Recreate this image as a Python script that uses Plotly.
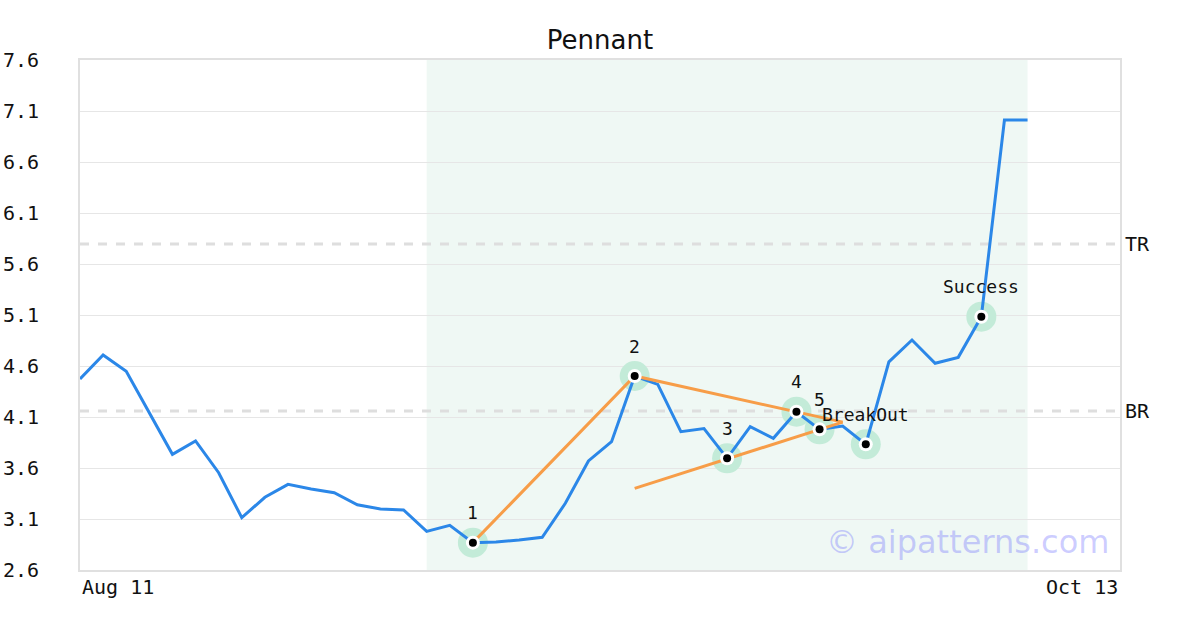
import plotly.graph_objects as go

# ---- data ----
prices = [4.473, 4.708, 4.548, 4.14, 3.734, 3.865, 3.554, 3.113, 3.313, 3.44,
          3.394, 3.358, 3.24, 3.198, 3.188, 2.979, 3.038, 2.868, 2.875, 2.894,
          2.92, 3.254, 3.669, 3.858, 4.502, 4.42, 3.956, 3.986, 3.695, 4.005,
          3.891, 4.152, 3.979, 4.012, 3.832, 4.64, 4.855, 4.627, 4.685, 5.083,
          7.012, 7.012]
day_index = list(range(len(prices)))
x_tick_pos = [0, 45]
x_tick_labels = ["Aug 11", "Oct 13"]
y_ticks = [2.6, 3.1, 3.6, 4.1, 4.6, 5.1, 5.6, 6.1, 6.6, 7.1, 7.6]

pattern_idx = [17, 24, 28, 31, 32, 34, 39]
pattern_labels = ["1", "2", "3", "4", "5", "BreakOut", "Success"]

upper_x = [17, 24, 33]
upper_y = [2.868, 4.502, 4.05]
lower_x = [24, 33]
lower_y = [3.40, 4.05]

zone = [15, 41]
levels = {"TR": 5.796, "BR": 4.159}

mono = "DejaVu Sans Mono"
pattern_y = [prices[i] for i in pattern_idx]

fig = go.Figure()
# halos
fig.add_trace(go.Scatter(x=pattern_idx, y=pattern_y, mode="markers",
                         marker=dict(size=30, color="#c3ebd8"), hoverinfo="skip"))
# price line
fig.add_trace(go.Scatter(x=day_index, y=prices, mode="lines",
                         line=dict(color="#2b87e8", width=3)))
# trend lines
fig.add_trace(go.Scatter(x=upper_x, y=upper_y, mode="lines",
                         line=dict(color="#f79d48", width=3)))
fig.add_trace(go.Scatter(x=lower_x, y=lower_y, mode="lines",
                         line=dict(color="#f79d48", width=3)))
# white rings and dots
fig.add_trace(go.Scatter(x=pattern_idx, y=pattern_y, mode="markers",
                         marker=dict(size=14, color="white")))
fig.add_trace(go.Scatter(x=pattern_idx, y=pattern_y, mode="markers",
                         marker=dict(size=8, color="black")))

shapes = [dict(type="rect", xref="x", yref="paper", x0=zone[0], x1=zone[1], y0=0, y1=1,
               fillcolor="#eff8f4", line=dict(width=0), layer="below")]
annotations = []
for name, val in levels.items():
    shapes.append(dict(type="line", xref="paper", yref="y", x0=0, x1=1, y0=val, y1=val,
                       line=dict(color="#dedede", width=3, dash="dash"), layer="below"))
    annotations.append(dict(xref="paper", yref="y", x=1, y=val, text=name, showarrow=False,
                            xanchor="left", xshift=3, font=dict(family=mono, size=20, color="#111")))

for i, lab, v in zip(pattern_idx, pattern_labels, pattern_y):
    annotations.append(dict(x=i, y=v, text=lab, showarrow=False, yshift=30,
                            font=dict(family=mono, size=18, color="#111")))

for pos, lab in zip(x_tick_pos, x_tick_labels):
    annotations.append(dict(xref="x", yref="paper", x=pos, y=0, text=lab, showarrow=False,
                            xanchor="left" if pos == x_tick_pos[0] else "right",
                            yanchor="top", yshift=-3,
                            font=dict(family=mono, size=20, color="#111")))

annotations.append(dict(xref="paper", yref="paper", x=1, y=0, text="© aipatterns.com",
                        showarrow=False, xanchor="right", yanchor="middle",
                        xshift=-9, yshift=28,
                        font=dict(family="DejaVu Sans", size=32, color="rgba(110,110,255,0.35)")))

fig.update_layout(
    width=1200, height=630,
    margin=dict(l=80, r=80, t=60, b=60, autoexpand=False),
    paper_bgcolor="white", plot_bgcolor="white",
    showlegend=False,
    title=dict(text="Pennant", x=0.5, xanchor="center", y=1 - 40 / 630, yanchor="middle",
               font=dict(family="DejaVu Sans", size=26, color="#111")),
    shapes=shapes, annotations=annotations,
    xaxis=dict(range=[0, 45], showticklabels=False, showgrid=False, zeroline=False,
               showline=True, mirror=True, linecolor="#e0e0e0", linewidth=2, ticks=""),
    yaxis=dict(range=[2.6, 7.6], tickvals=y_ticks, ticktext=[f"{v:.1f}" for v in y_ticks],
               showgrid=True, gridcolor="#e6e6e6", gridwidth=1, zeroline=False,
               showline=True, mirror=True, linecolor="#e0e0e0", linewidth=2, ticks="",
               ticklabelstandoff=35,
               tickfont=dict(family=mono, size=20, color="#111")),
)

fig.write_html("out.html", config={"displayModeBar": False},
               post_script="document.body.style.margin='0';document.body.style.overflow='hidden';")
